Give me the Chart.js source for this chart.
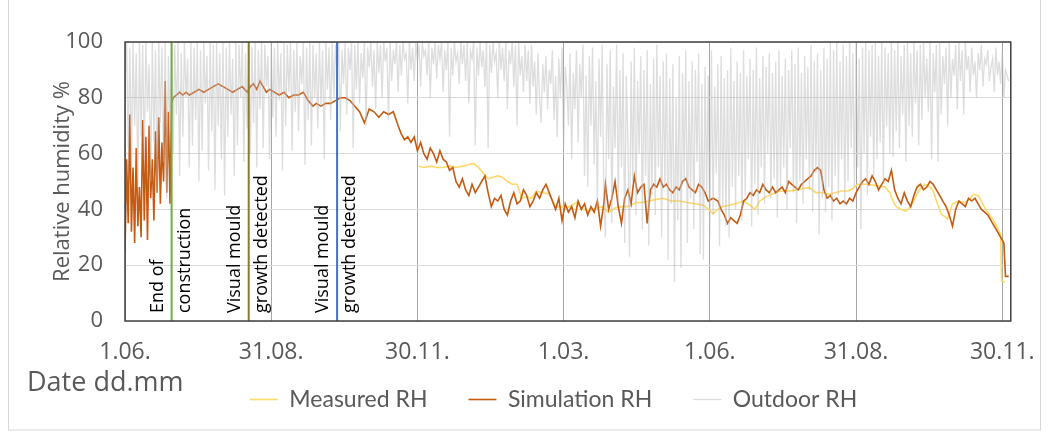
<!DOCTYPE html>
<html>
<head>
<meta charset="utf-8">
<title>Relative humidity</title>
<script src="https://cdn.jsdelivr.net/npm/chart.js@4.4.1/dist/chart.umd.min.js"></script>
<style>
  html, body { margin: 0; padding: 0; background: #fff; }
</style>
</head>
<body>
<canvas id="rhChart" width="1053" height="435"></canvas>
<script>
// x axis = days counted from 1.06. (first year)
const tickDays = [0, 91, 182, 273, 364, 455, 546];
const tickLabels = ['1.06.', '31.08.', '30.11.', '1.03.', '1.06.', '31.08.', '30.11.'];
const lastDay = 551.3;

// events shown as vertical lines
const markerDays = [29, 77, 132];
const markerColors = ['#70AD47', '#8C7A2E', '#4472C4'];
const markerText = [['End of', 'construction'], ['Visual mould', 'growth detected'], ['Visual mould', 'growth detected']];

// simulation RH (day, %)
const simDays = [0,1,2,3,4,5,6,7,8,9,10,11,12,13,14,15,16,17,18,19,20,21,22,23,24,25,26,27,28,29,
  30,32,34,36,38,40,43,46,49,52,55,58,61,64,67,70,73,76,78,80,82,84,86,88,90,93,96,99,102,105,108,111,114,117,119,122,125,128,131,134,137,140,143,146,149,152,155,158,161,164,167,170,172,174,176,178,
  180,182,184,186,188,190,192,194,196,198,200,202,204,206,208,210,212,214,216,218,220,222,224,226,228,230,232,234,236,238,240,242,244,246,248,250,252,254,256,258,260,262,264,266,268,270,272,274,276,278,
  280,282,284,286,288,290,292,294,296,298,299,301,303,305,307,309,311,313,315,317,319,321,323,325,327,329,331,333,335,337,339,341,343,345,347,349,351,353,355,357,359,361,363,366,369,371,373,375,377,379,
  381,383,385,387,389,391,393,395,397,399,401,403,405,407,409,411,413,415,417,419,421,423,425,427,429,431,433,435,437,439,441,443,445,447,449,451,453,455,457,459,461,463,465,467,469,471,473,475,477,479,
  481,483,485,487,489,491,493,495,497,499,501,503,505,507,509,511,513,515,517,519,521,523,525,527,529,531,533,535,537,539,541,543,545,547,548,550];
const simValues = [24,58,35,74,32,55,28,62,34,48,30,72,36,66,29,70,44,58,36,68,46,73,42,64,50,86,46,75,42,78,
  80,81,82,81,82,81,82,83,82,83,84,85,84,83,82,83,84,82,84,85,83,86,84,82,83,82,81,82,80,81,81,82,79,77,78,77,78,78,79,80,80,79,77,75,71,76,75,73,75,74,75,70,67,65,66,64,
  66,61,64,60,58,62,60,57,61,58,57,54,55,50,48,51,47,45,49,46,48,50,52,46,41,44,43,45,40,38,43,46,42,43,47,45,41,43,46,44,47,49,46,43,40,44,36,42,39,41,
  37,43,40,42,38,41,39,43,34,42,49,40,44,50,41,35,44,47,42,52,46,48,49,35,47,49,48,51,48,49,47,46,48,47,50,51,48,47,46,49,48,46,43,44,43,40,38,35,37,36,
  35,38,43,44,46,45,47,46,49,47,46,48,46,47,48,46,50,49,48,47,49,50,51,52,54,55,54,47,44,45,43,44,42,43,42,44,43,46,48,50,51,49,52,50,47,49,51,50,54,47,
  44,42,46,43,41,45,48,49,47,48,50,49,47,45,43,41,38,34,40,43,42,41,44,43,44,42,40,39,38,36,34,32,30,28,16,16];

// measured RH (day, %)
const measuredDays = [183,186,190,194,198,202,206,210,214,217,220,223,226,229,232,235,238,241,244,247,250,253,256,260,264,268,271,275,278,281,
  285,289,293,297,301,305,309,313,318,322,326,330,335,340,345,350,355,360,363,366,369,372,376,380,385,389,392,395,399,403,
  407,412,418,422,426,430,434,438,442,446,450,453,456,461,464,467,470,473,476,478,480,483,486,488,490,492,494,496,498,501,
  503,505,508,512,515,519,523,526,528,531,533,535,538,540,543,545,545.6,547.7];
const measuredValues = [55.5,55,55.5,55,55,55.5,55,55.5,56,56.5,55,53,51,51.5,52,51.5,50,49,49,44,44.5,44,46.5,46,45.5,41,41,40.5,41.5,42.5,
  40,39.5,40.5,41,39,40.5,41,41,42.5,42.5,43,43.5,44,43,43,42.5,42,41.5,40,38.5,40,41,41.5,42,43,41.5,40,43,44.5,45.5,
  46.5,46.5,47,47.5,47.8,46,46,45.4,46,46.6,46.6,47.5,49,49,48.8,48.6,48.3,48,46,43,41,40,39.4,40.5,42,44.5,46.6,48,49,48,
  46.6,43,38.4,36.6,42,43,42.4,44,45.4,45,43,40.6,38,36.6,33.5,31,14.3,14];

// outdoor RH, one value per day from day 0
const outdoorValues = [
  85,100,62,98,55,100,70,96,48,100, 66,99,58,100,75,92,50,100,64,97, 46,100,71,98,57,100,44,95,68,100,
  60,99,74,100,52,96,66,100,80,94, 55,100,63,98,72,100,50,97,61,100, 78,95,54,100,68,99,47,100,70,96,
  58,100,45,98,66,100,74,94,52,100, 63,99,80,100,57,96,69,100,60,98, 71,100,55,97,76,100,62,99,84,95,
  58,100,73,98,66,100,79,96,54,100, 70,99,82,100,61,97,75,100,68,95, 85,100,56,98,72,100,63,99,80,96,
  69,100,77,97,58,100,83,98,72,100, 80,99,88,100,68,97,85,100,74,98, 90,100,62,99,83,100,78,96,87,100,
  70,98,91,100,84,97,76,100,89,99, 80,100,93,98,72,100,86,97,92,100, 82,99,88,100,94,96,78,100,90,98,
  86,100,93,99,84,100,95,97,88,100, 80,98,92,100,87,99,94,100,82,97, 90,100,66,98,88,100,93,96,85,100,
  92,99,86,100,78,97,94,100,63,98, 88,100,91,97,84,100,62,99,89,100, 93,96,80,100,90,98,86,100,76,97,
  92,100,84,99,70,100,88,95,82,99, 86,97,78,99,84,93,74,96,80,71, 92,82,95,76,90,85,97,72,88,66,
  94,80,98,62,91,84,70,96,58,89, 76,97,64,92,80,99,52,88,48,95, 70,98,56,86,40,94,66,99,45,30,
  92,58,97,35,84,62,99,42,90,55, 96,28,88,64,23,93,50,98,38,86, 60,95,33,90,52,97,27,85,45,94,
  38,99,55,88,30,93,48,96,22,87, 42,92,14,80,36,95,19,89,50,97, 28,86,44,93,33,90,57,96,24,85,
  22,91,46,88,30,97,38,84,53,92, 27,95,41,87,34,90,30,98,48,86, 40,93,52,89,36,97,45,88,58,94,
  34,90,49,98,38,87,55,95,42,91, 60,96,44,89,51,93,37,97,48,88, 55,94,40,90,62,97,46,92,35,98,
  50,89,42,95,58,91,47,99,39,93, 53,96,31,90,44,98,39,94,48,100, 36,97,52,100,45,93,58,99,41,95,
  50,100,62,96,48,100,55,94,33,98, 60,100,45,97,66,99,52,100,58,95, 64,100,50,98,70,96,60,100,59,97,
  68,100,62,95,74,99,57,100,70,96, 66,100,78,97,63,99,72,100,80,94, 75,100,58,96,82,99,57,100,74,95,
  85,98,70,100,80,94,88,99,76,100, 86,97,74,100,90,95,82,98,88,93, 80,96,90,99,84,94,92,97,86,91,
  94,82,98,88,93,85,97,80,90,88,86];

const FONT = '"Open Sans", "DejaVu Sans", sans-serif';
const LEGEND_FONT = 'Lato, "Open Sans", sans-serif';
const GREY_TEXT = '#595959';

function toPoints(xs, ys) {
  return xs.map((x, i) => ({ x: x, y: ys[i] }));
}

const datasets = [
  {
    label: 'Measured RH',
    data: toPoints(measuredDays, measuredValues),
    borderColor: '#FFD966',
    borderWidth: 1.6,
    pointRadius: 0,
    order: 3
  },
  {
    label: 'Simulation RH',
    data: toPoints(simDays, simValues),
    borderColor: '#C55A11',
    borderWidth: 1.6,
    pointRadius: 0,
    order: 2
  },
  {
    label: 'Outdoor RH',
    data: outdoorValues.map((v, i) => ({ x: i, y: v })),
    borderColor: 'rgba(190,188,188,0.5)',
    borderWidth: 1.3,
    pointRadius: 0,
    order: 1
  }
];

// vertical event lines, on top of the curves
markerDays.forEach((d, i) => {
  datasets.push({
    label: 'marker' + i,
    data: [{ x: d, y: 0 }, { x: d, y: 100 }],
    borderColor: markerColors[i],
    borderWidth: 2,
    pointRadius: 0,
    order: 0
  });
});

// legend: fixed height, then drawn a bit higher and to the right
// (its padding is large to spread the items sideways)
const legendPlace = {
  id: 'legendPlace',
  afterInit(chart) {
    const legend = chart.legend;
    const fit = legend.fit;
    const draw = legend.draw;
    legend.fit = function () {
      fit.call(this);
      this.height = 64;
    };
    legend.draw = function () {
      this.top -= 24; this.left += 47; this.right += 47;
      draw.call(this);
      this.top += 24; this.left -= 47; this.right -= 47;
    };
  }
};

// frame of the plot area, event texts, x title and the outer border
const extras = {
  id: 'extras',
  afterDatasetsDraw(chart) {
    const ctx = chart.ctx;
    const a = chart.chartArea;
    const xs = chart.scales.x;
    ctx.save();
    ctx.strokeStyle = '#404040';
    ctx.lineWidth = 1.5;
    ctx.strokeRect(a.left, a.top, a.right - a.left, a.bottom - a.top);

    ctx.fillStyle = '#000';
    ctx.font = '18px ' + FONT;
    ctx.textAlign = 'left';
    ctx.textBaseline = 'middle';
    markerDays.forEach((d, i) => {
      const px = xs.getPixelForValue(d);
      [[-14, markerText[i][0]], [13, markerText[i][1]]].forEach(t => {
        ctx.save();
        ctx.translate(px + t[0], a.bottom - 8);
        ctx.rotate(-Math.PI / 2);
        ctx.fillText(t[1], 0, 0);
        ctx.restore();
      });
    });
    ctx.restore();
  },
  afterDraw(chart) {
    const ctx = chart.ctx;
    ctx.save();
    ctx.fillStyle = GREY_TEXT;
    ctx.font = '27px ' + FONT;
    ctx.textBaseline = 'middle';
    ctx.fillText('Date dd.mm', 27, 383);
    ctx.strokeStyle = '#D9D9D9';
    ctx.lineWidth = 1;
    ctx.strokeRect(8.5, -1, 1032, 431);
    ctx.restore();
  }
};

new Chart(document.getElementById('rhChart'), {
  type: 'line',
  data: { datasets: datasets },
  plugins: [legendPlace, extras],
  options: {
    responsive: false,
    animation: false,
    layout: { padding: { top: 42, right: 40, bottom: 0, left: 0 } },
    plugins: {
      tooltip: { enabled: false },
      legend: {
        position: 'bottom',
        labels: {
          color: GREY_TEXT,
          font: { family: LEGEND_FONT, size: 23 },
          usePointStyle: true,
          pointStyle: 'line',
          pointStyleWidth: 28,
          padding: 41,
          filter: item => item.datasetIndex < 3,
          sort: (p, q) => p.datasetIndex - q.datasetIndex
        }
      }
    },
    scales: {
      x: {
        type: 'linear',
        min: 0,
        max: lastDay,
        afterBuildTicks: scale => { scale.ticks = tickDays.map(v => ({ value: v })); },
        afterFit: scale => { scale.height = 50; },
        ticks: {
          color: GREY_TEXT,
          font: { family: FONT, size: 23 },
          maxRotation: 0,
          autoSkip: false,
          padding: 18,
          callback: (v, i) => tickLabels[i]
        },
        grid: { color: '#A6A6A6', drawTicks: false },
        border: { display: false }
      },
      y: {
        min: 0,
        max: 100,
        afterFit: scale => { scale.width = 125; },
        ticks: {
          stepSize: 20,
          color: GREY_TEXT,
          font: { family: FONT, size: 22 },
          padding: 22
        },
        grid: { color: '#D9D9D9', drawTicks: false },
        border: { display: false },
        title: {
          display: true,
          text: 'Relative humidity %',
          color: GREY_TEXT,
          font: { family: FONT, size: 22 },
          padding: { top: 50, bottom: 0 }
        }
      }
    }
  }
});
</script>
</body>
</html>
